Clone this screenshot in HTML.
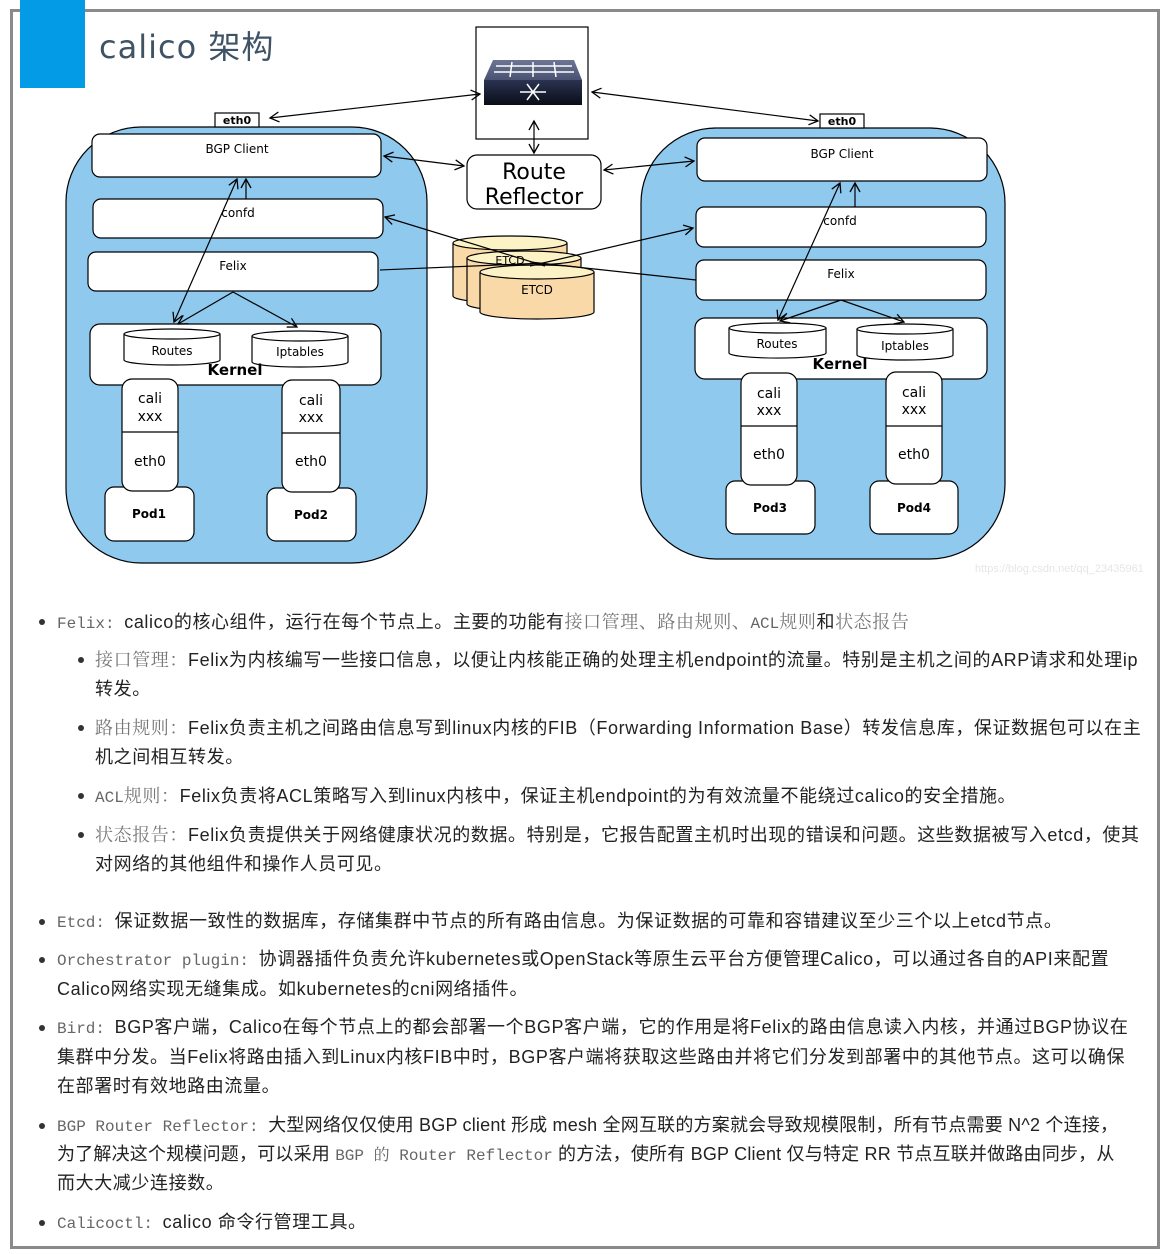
<!DOCTYPE html>
<html><head><meta charset="utf-8">
<style>
body{margin:0;width:1167px;height:1254px;background:#fff;position:relative;overflow:hidden;font-family:"Liberation Sans","Noto Sans CJK SC",sans-serif;}
.frame{position:absolute;left:10px;top:9px;width:1144px;height:1234px;border:3px solid #8a8a8a;}
.blue{position:absolute;left:20px;top:0;width:65px;height:88px;background:#039be5;}
.title{position:absolute;left:99px;top:22px;font-size:32px;color:#3f5364;font-family:"DejaVu Sans","Noto Sans CJK SC",sans-serif;letter-spacing:1px;}
.l{position:absolute;white-space:nowrap;font-size:18px;color:#222;line-height:24px;letter-spacing:0.6px;}
.g{color:#666;font-family:"Liberation Mono","Noto Serif CJK SC",monospace;font-size:16px;letter-spacing:0;}
.gs{color:#777;font-family:"Noto Serif CJK SC",serif;}
.d{position:absolute;width:6px;height:6px;border-radius:50%;background:#333;}
svg text{font-family:"DejaVu Sans",sans-serif;}
</style></head><body>
<div class="frame"></div>
<div class="blue"></div>
<div class="title">calico 架构</div>
<svg width="1167" height="600" style="position:absolute;left:0;top:0" xmlns="http://www.w3.org/2000/svg">
<defs>
<marker id="a" markerWidth="12" markerHeight="12" refX="10" refY="6" orient="auto-start-reverse" markerUnits="userSpaceOnUse"><path d="M1,1 L10,6 L1,11" fill="none" stroke="#000" stroke-width="1.3"/></marker>
<linearGradient id="sw" x1="0" y1="0" x2="0" y2="1"><stop offset="0" stop-color="#2a3350"/><stop offset="1" stop-color="#0a0d18"/></linearGradient>
<linearGradient id="st" x1="0" y1="0" x2="0" y2="1"><stop offset="0" stop-color="#6c7594"/><stop offset="1" stop-color="#4a5272"/></linearGradient>
</defs>
<g stroke="#000" stroke-width="1.2">
<rect x="66" y="127" width="361" height="436" rx="75" fill="#8fc9ee"/>
<rect x="215" y="113" width="44" height="14" fill="#fff"/>
<rect x="92" y="134" width="289" height="43" rx="8" fill="#fff"/>
<rect x="93" y="199" width="290" height="39" rx="8" fill="#fff"/>
<rect x="88" y="252" width="290" height="39" rx="8" fill="#fff"/>
<rect x="90" y="324" width="291" height="61" rx="10" fill="#fff"/>
<rect x="105" y="487" width="89" height="54" rx="9" fill="#fff"/>
<rect x="267" y="488" width="89" height="53" rx="9" fill="#fff"/>
<rect x="122" y="379" width="56" height="112" rx="10" fill="#fff"/>
<line x1="122" y1="432" x2="178" y2="432"/>
<rect x="282" y="380" width="58" height="112" rx="10" fill="#fff"/>
<line x1="282" y1="433" x2="340" y2="433"/>
<path d="M124 334 L124 360 A48 5 0 0 0 220 360 L220 334" fill="#fff"/><ellipse cx="172" cy="334" rx="48" ry="5" fill="#fff"/>
<path d="M252 336 L252 362 A48 5 0 0 0 348 362 L348 336" fill="#fff"/><ellipse cx="300" cy="336" rx="48" ry="5" fill="#fff"/>
<rect x="641" y="128" width="364" height="431" rx="75" fill="#8fc9ee"/>
<rect x="820" y="114" width="44" height="14" fill="#fff"/>
<rect x="697" y="138" width="290" height="43" rx="8" fill="#fff"/>
<rect x="696" y="207" width="290" height="40" rx="8" fill="#fff"/>
<rect x="696" y="260" width="290" height="40" rx="8" fill="#fff"/>
<rect x="695" y="318" width="292" height="61" rx="10" fill="#fff"/>
<rect x="726" y="481" width="89" height="53" rx="9" fill="#fff"/>
<rect x="870" y="481" width="88" height="53" rx="9" fill="#fff"/>
<rect x="741" y="373" width="56" height="112" rx="10" fill="#fff"/>
<line x1="741" y1="426" x2="797" y2="426"/>
<rect x="886" y="372" width="56" height="112" rx="10" fill="#fff"/>
<line x1="886" y1="426" x2="942" y2="426"/>
<path d="M729 328 L729 353 A48 5 0 0 0 826 353 L826 328" fill="#fff"/><ellipse cx="777.5" cy="328" rx="48.5" ry="5" fill="#fff"/>
<path d="M857 329 L857 355 A48 5 0 0 0 953 355 L953 329" fill="#fff"/><ellipse cx="905" cy="329" rx="48" ry="5" fill="#fff"/>
<rect x="476" y="27" width="112" height="112" fill="#fff"/>
<rect x="467" y="155" width="134" height="54" rx="10" fill="#fff"/>
<path d="M453 243 L453 296 A57 7 0 0 0 567 296 L567 243" fill="#fad9a8"/><ellipse cx="510" cy="243" rx="57" ry="7" fill="#fbf2c6"/>
<path d="M467 258 L467 304 A57 7 0 0 0 581 304 L581 258" fill="#fad9a8"/><ellipse cx="524" cy="258" rx="57" ry="7" fill="#fbf2c6"/>
<path d="M480 272 L480 312 A57 7 0 0 0 594 312 L594 272" fill="#fad9a8"/><ellipse cx="537" cy="272" rx="57" ry="7" fill="#fbf2c6"/>
</g>
<path d="M493 60 L574 60 L582 80 L484 80 Z" fill="url(#st)"/>
<rect x="484" y="80" width="98" height="25" fill="url(#sw)"/>
<g stroke="#fff" stroke-width="1.5"><line x1="496" y1="66" x2="572" y2="66"/><line x1="494" y1="72" x2="574" y2="72"/><line x1="512" y1="62" x2="510" y2="77"/><line x1="533" y1="62" x2="533" y2="77"/><line x1="554" y1="62" x2="556" y2="77"/>
<line x1="520" y1="92" x2="546" y2="92"/><line x1="527" y1="84" x2="539" y2="100"/><line x1="539" y1="84" x2="527" y2="100"/></g>
<g stroke="#000" stroke-width="1.2" fill="none">
<line x1="480" y1="94" x2="270" y2="118" marker-start="url(#a)" marker-end="url(#a)"/>
<line x1="592" y1="92" x2="818" y2="121" marker-start="url(#a)" marker-end="url(#a)"/>
<line x1="534" y1="121" x2="534" y2="153" marker-start="url(#a)" marker-end="url(#a)"/>
<line x1="464" y1="166" x2="384" y2="156" marker-start="url(#a)" marker-end="url(#a)"/>
<line x1="604" y1="170" x2="694" y2="161" marker-start="url(#a)" marker-end="url(#a)"/>
<line x1="545" y1="266" x2="385" y2="217" marker-end="url(#a)"/>
<line x1="380" y1="270" x2="545" y2="263"/>
<line x1="530" y1="266" x2="693" y2="228" marker-end="url(#a)"/>
<line x1="696" y1="280" x2="530" y2="262"/>
<line x1="237" y1="179" x2="174" y2="322" marker-start="url(#a)" marker-end="url(#a)"/>
<line x1="246" y1="199" x2="246" y2="179" marker-end="url(#a)"/>
<line x1="233" y1="292" x2="178" y2="324" marker-end="url(#a)"/>
<line x1="233" y1="292" x2="297" y2="327" marker-end="url(#a)"/>
<line x1="840" y1="183" x2="778" y2="320" marker-start="url(#a)" marker-end="url(#a)"/>
<line x1="855" y1="207" x2="855" y2="183" marker-end="url(#a)"/>
<line x1="841" y1="300" x2="780" y2="321" marker-end="url(#a)"/>
<line x1="841" y1="300" x2="904" y2="322" marker-end="url(#a)"/>
</g>
<g font-size="12" text-anchor="middle" fill="#000">
<text x="237" y="124" font-size="11" font-weight="bold">eth0</text>
<text x="842" y="125" font-size="11" font-weight="bold">eth0</text>
<text x="237" y="153">BGP Client</text>
<text x="842" y="158">BGP Client</text>
<text x="238" y="217">confd</text>
<text x="840" y="225">confd</text>
<text x="233" y="270">Felix</text>
<text x="841" y="278">Felix</text>
<text x="172" y="355">Routes</text>
<text x="300" y="356">Iptables</text>
<text x="777" y="348">Routes</text>
<text x="905" y="350">Iptables</text>
<text x="235" y="375" font-size="15" font-weight="bold">Kernel</text>
<text x="840" y="369" font-size="15" font-weight="bold">Kernel</text>
<text x="510" y="264" font-size="11">ETCD</text>
<text x="537" y="294">ETCD</text>
<text x="149" y="518" font-weight="bold">Pod1</text>
<text x="311" y="519" font-weight="bold">Pod2</text>
<text x="770" y="512" font-weight="bold">Pod3</text>
<text x="914" y="512" font-weight="bold">Pod4</text>
</g>
<g font-size="14" text-anchor="middle" fill="#000" style="font-family:'Liberation Sans',sans-serif">
<text x="150" y="403">cali</text><text x="150" y="421">xxx</text><text x="150" y="466">eth0</text>
<text x="311" y="405">cali</text><text x="311" y="422">xxx</text><text x="311" y="466">eth0</text>
<text x="769" y="398">cali</text><text x="769" y="415">xxx</text><text x="769" y="459">eth0</text>
<text x="914" y="397">cali</text><text x="914" y="414">xxx</text><text x="914" y="459">eth0</text>
<text x="534" y="179" font-size="22">Route</text><text x="534" y="204" font-size="22">Reflector</text>
</g>
<text x="975" y="572" font-size="11" fill="#e6e6e6" style="font-family:'Liberation Sans',sans-serif">https://blog.csdn.net/qq_23435961</text>
</svg>

<div class="d" style="left:39px;top:619px"></div>
<div class="l" style="left:57px;top:609px"><span class="g">Felix: </span>calico的核心组件，运行在每个节点上。主要的功能有<span class="gs">接口管理、路由规则、</span><span class="g">ACL</span><span class="gs">规则</span>和<span class="gs">状态报告</span></div>
<div class="d" style="left:78px;top:657px"></div>
<div class="l" style="left:95px;top:647px"><span class="gs">接口管理：</span>Felix为内核编写一些接口信息，以便让内核能正确的处理主机endpoint的流量。特别是主机之间的ARP请求和处理ip</div>
<div class="l" style="left:95px;top:677px">转发。</div>
<div class="d" style="left:78px;top:725px"></div>
<div class="l" style="left:95px;top:715px"><span class="gs">路由规则：</span>Felix负责主机之间路由信息写到linux内核的FIB（Forwarding Information Base）转发信息库，保证数据包可以在主</div>
<div class="l" style="left:95px;top:745px">机之间相互转发。</div>
<div class="d" style="left:78px;top:793px"></div>
<div class="l" style="left:95px;top:783px"><span class="g">ACL</span><span class="gs">规则：</span>Felix负责将ACL策略写入到linux内核中，保证主机endpoint的为有效流量不能绕过calico的安全措施。</div>
<div class="d" style="left:78px;top:832px"></div>
<div class="l" style="left:95px;top:822px"><span class="gs">状态报告：</span>Felix负责提供关于网络健康状况的数据。特别是，它报告配置主机时出现的错误和问题。这些数据被写入etcd，使其</div>
<div class="l" style="left:95px;top:852px">对网络的其他组件和操作人员可见。</div>
<div class="d" style="left:39px;top:919px"></div>
<div class="l" style="left:57px;top:909px"><span class="g">Etcd: </span>保证数据一致性的数据库，存储集群中节点的所有路由信息。为保证数据的可靠和容错建议至少三个以上etcd节点。</div>
<div class="d" style="left:39px;top:957px"></div>
<div class="l" style="left:57px;top:947px"><span class="g">Orchestrator plugin: </span>协调器插件负责允许kubernetes或OpenStack等原生云平台方便管理Calico，可以通过各自的API来配置</div>
<div class="l" style="left:57px;top:977px">Calico网络实现无缝集成。如kubernetes的cni网络插件。</div>
<div class="d" style="left:39px;top:1025px"></div>
<div class="l" style="left:57px;top:1015px"><span class="g">Bird: </span>BGP客户端，Calico在每个节点上的都会部署一个BGP客户端，它的作用是将Felix的路由信息读入内核，并通过BGP协议在</div>
<div class="l" style="left:57px;top:1045px">集群中分发。当Felix将路由插入到Linux内核FIB中时，BGP客户端将获取这些路由并将它们分发到部署中的其他节点。这可以确保</div>
<div class="l" style="left:57px;top:1074px">在部署时有效地路由流量。</div>
<div class="d" style="left:39px;top:1123px"></div>
<div class="l" style="left:57px;top:1113px;letter-spacing:0.2px"><span class="g">BGP Router Reflector: </span>大型网络仅仅使用 BGP client 形成 mesh 全网互联的方案就会导致规模限制，所有节点需要 N^2 个连接，</div>
<div class="l" style="left:57px;top:1142px;letter-spacing:0.2px">为了解决这个规模问题，可以采用 <span class="g">BGP 的 Router Reflector</span> 的方法，使所有 BGP Client 仅与特定 RR 节点互联并做路由同步，从</div>
<div class="l" style="left:57px;top:1171px">而大大减少连接数。</div>
<div class="d" style="left:39px;top:1220px"></div>
<div class="l" style="left:57px;top:1210px"><span class="g">Calicoctl: </span> calico 命令行管理工具。</div>
</body></html>
